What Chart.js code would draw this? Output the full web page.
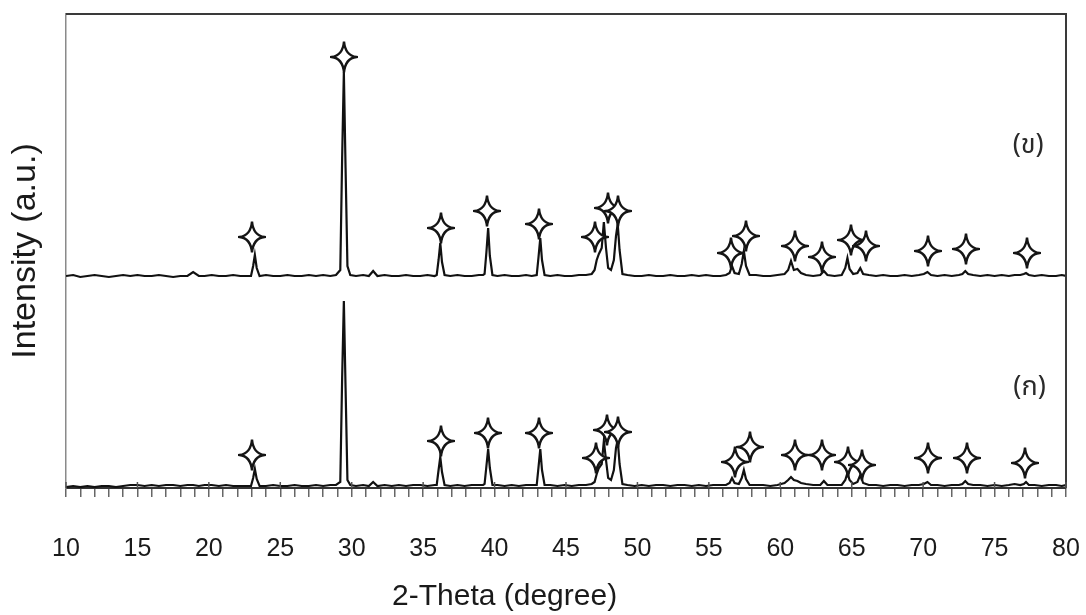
<!DOCTYPE html>
<html>
<head>
<meta charset="utf-8">
<script src="https://cdn.jsdelivr.net/npm/chart.js@4"></script>
<style>
  body { margin: 0; background: #fff; }
  #wrap { width: 1086px; height: 615px; position: relative; }
</style>
</head>
<body>
<div id="wrap"><canvas id="xrd-chart"></canvas></div>
<script>
// XRD patterns, 2-theta in degrees, intensity in arbitrary units
const twoTheta = [
    10, 10.5, 11, 11.5, 12, 12.5, 13, 13.5, 14, 14.5,
    15, 15.5, 16, 16.5, 17, 17.5, 18, 18.5, 18.9, 19.3,
    19.7, 20.2, 20.7, 21.2, 21.7, 22.2, 22.6,
    22.95, 23.1, 23.22, 23.35, 23.55,
    24, 24.5, 25, 25.5, 26, 26.5, 27, 27.5, 28, 28.5, 28.9,
    29.2, 29.33, 29.45, 29.57, 29.7, 29.9,
    30.3, 30.8, 31.2, 31.5, 31.8, 32.3, 32.8, 33.3, 33.8, 34.3, 34.8, 35.3, 35.8,
    35.95, 36.08, 36.2, 36.32, 36.5,
    36.9, 37.4, 37.9, 38.4, 38.9, 39.2,
    39.3, 39.43, 39.55, 39.67, 39.85,
    40.2, 40.7, 41.2, 41.7, 42.2, 42.6, 42.95,
    43.07, 43.2, 43.32, 43.5,
    43.9, 44.4, 44.9, 45.4, 45.9, 46.4, 46.8,
    47.0, 47.15, 47.3, 47.5, 47.65, 47.8, 47.95, 48.15, 48.35, 48.5, 48.62, 48.75, 48.95,
    49.3, 49.8, 50.3, 50.8, 51.3, 51.8, 52.3, 52.8, 53.3, 53.8, 54.3, 54.8, 55.3, 55.8, 56.2,
    56.45, 56.62, 56.8, 57.1, 57.3, 57.45, 57.6, 57.85,
    58.3, 58.8, 59.3, 59.8, 60.3, 60.55, 60.75, 60.95, 61.2, 61.45, 61.8,
    62.3, 62.8, 63.05, 63.3, 63.8, 64.3, 64.55, 64.7, 64.85, 65.1, 65.4, 65.6, 65.8, 66.2,
    66.7, 67.2, 67.7, 68.2, 68.7, 69.2, 69.7, 70.05, 70.3, 70.55, 71.0, 71.5, 72.0, 72.5, 72.75, 72.95, 73.15, 73.5,
    74.0, 74.5, 75.0, 75.5, 76.0, 76.4, 76.8, 77.05, 77.2, 77.4, 77.8, 78.3, 78.8, 79.3, 79.7, 80
];

// (ข) upper pattern
const traceB = [
    212, 213, 211, 212, 213, 212, 211, 212, 213, 212,
    213, 212, 212, 213, 212, 211, 212, 212, 216, 212,
    212, 213, 212, 212, 213, 212, 212,
    212, 222, 233, 220, 212,
    213, 212, 212, 213, 212, 212, 213, 212, 213, 212, 213,
    218, 330, 416, 320, 222, 213,
    212, 213, 212, 217, 212, 213, 212, 212, 213, 212, 212, 213, 212,
    213, 228, 245, 226, 213,
    212, 213, 212, 212, 213, 213,
    214, 236, 260, 232, 213,
    212, 213, 212, 212, 213, 212, 213,
    230, 250, 228, 213,
    212, 213, 212, 212, 213, 213, 214,
    218, 228, 234, 240, 266, 240, 220, 218, 228, 252, 264, 238, 214,
    213, 212, 212, 213, 212, 212, 213, 212, 212, 213, 212, 213, 212, 212, 213,
    215, 222, 215, 214, 224, 237, 222, 213,
    213, 212, 212, 213, 214, 218, 227, 218, 219, 215, 213,
    212, 213, 217, 213, 212, 213, 220, 230, 219, 214, 215, 220, 214, 213,
    212, 213, 212, 212, 213, 212, 213, 214, 216, 213, 212, 213, 212, 213, 214, 217, 214, 213,
    212, 213, 212, 213, 212, 213, 213, 214, 215, 213, 212, 213, 212, 212, 213, 212
];

// (ก) lower pattern
const traceA = [
    1, 2, 1, 2, 1, 2, 2, 1, 2, 3,
    3, 2, 3, 2, 3, 3, 2, 3, 3, 2,
    3, 3, 2, 3, 2, 2, 2,
    2, 10, 19, 9, 2,
    2, 3, 2, 2, 3, 2, 2, 3, 2, 3, 3,
    6, 110, 187, 100, 8, 3,
    2, 3, 2, 6, 2, 3, 2, 3, 2, 3, 3, 2, 3,
    3, 18, 31, 16, 3,
    2, 3, 2, 3, 3, 3,
    4, 22, 39, 20, 3,
    3, 2, 3, 2, 3, 3, 3,
    20, 39, 18, 3,
    3, 2, 3, 2, 3, 3, 4,
    6, 14, 20, 24, 47, 28, 10, 8, 18, 40, 48, 24, 4,
    3, 2, 3, 2, 3, 3, 2, 3, 3, 2, 3, 2, 3, 3, 3,
    5, 10, 5, 4, 10, 18, 9, 3,
    3, 3, 2, 3, 5, 8, 11, 8, 7, 5, 4,
    3, 3, 7, 3, 3, 3, 8, 15, 8, 4, 6, 13, 5, 3,
    3, 2, 3, 3, 2, 3, 3, 4, 6, 3, 3, 2, 3, 3, 4, 7, 4, 3,
    3, 2, 3, 2, 3, 4, 3, 4, 6, 3, 3, 2, 3, 3, 2, 3
];

// star markers over the identified peaks
const starBX = [23.02, 29.46, 36.25, 39.47, 43.11, 47.03, 47.94, 48.64, 56.55, 57.6, 61.03, 62.92, 64.95, 66.0, 70.34, 73.0, 77.27];
const starBY = [251, 431, 260, 277, 264, 251, 280, 277, 235, 252, 242, 231, 248, 242, 237, 239, 235];
const starAX = [23.02, 36.25, 39.54, 43.11, 47.1, 47.87, 48.64, 56.83, 57.88, 61.03, 62.92, 64.74, 65.72, 70.34, 73.07, 77.13];
const starAY = [33, 47, 55, 55, 30, 58, 56, 26, 41, 33, 33, 26, 23, 30, 30, 25];

const majorTicks = [10, 15, 20, 25, 30, 35, 40, 45, 50, 55, 60, 65, 70, 75, 80];
const sampleLabels = ['(ข)', '(ก)'];
const labelX = [77.35, 77.45];
const labelY = [340, 98];
const xTitle = '2-Theta (degree)';
const xTitleAt = 40.7;   // the axis title sits left of centre in the original

function toPoints(xs, ys) {
    return xs.map((x, i) => ({ x: x, y: ys[i] }));
}

// four pointed star used as point style
function makeStar() {
    const c = document.createElement('canvas');
    c.width = 28;
    c.height = 34;
    const g = c.getContext('2d');
    const cx = 14, cy = 17, k = 1.3;
    g.beginPath();
    g.moveTo(cx, 1.5);
    g.quadraticCurveTo(cx + k, cy - k, 26.5, cy);
    g.quadraticCurveTo(cx + k, cy + k, cx, 32.5);
    g.quadraticCurveTo(cx - k, cy + k, 1.5, cy);
    g.quadraticCurveTo(cx - k, cy - k, cx, 1.5);
    g.closePath();
    g.fillStyle = '#fff';
    g.fill();
    g.lineWidth = 2.4;
    g.strokeStyle = '#151515';
    g.stroke();
    return c;
}
const star = makeStar();

// frame on top/right, crossing major ticks, sample labels, x title
const extras = {
    id: 'extras',
    afterDatasetsDraw(chart) {
        const { ctx, chartArea, scales } = chart;
        const x = scales.x, y = scales.y;
        ctx.save();
        ctx.strokeStyle = '#3a3a3a';
        ctx.lineWidth = 2;
        ctx.beginPath();
        ctx.moveTo(chartArea.left, chartArea.top);
        ctx.lineTo(chartArea.right, chartArea.top);
        ctx.lineTo(chartArea.right, chartArea.bottom);
        ctx.stroke();

        ctx.strokeStyle = '#555';
        ctx.lineWidth = 1.5;
        majorTicks.forEach(v => {
            const px = x.getPixelForValue(v);
            ctx.beginPath();
            ctx.moveTo(px, chartArea.bottom);
            ctx.lineTo(px, chartArea.bottom - 6);
            ctx.stroke();
        });

        ctx.fillStyle = '#2a2a2a';
        ctx.font = '27px "Noto Sans Thai", Tahoma, "Liberation Sans", sans-serif';
        ctx.textAlign = 'center';
        ctx.textBaseline = 'middle';
        sampleLabels.forEach((t, i) => {
            ctx.fillText(t, x.getPixelForValue(labelX[i]), y.getPixelForValue(labelY[i]));
        });

        ctx.fillStyle = '#1a1a1a';
        ctx.font = '30px "Liberation Sans", Arial, sans-serif';
        ctx.fillText(xTitle, x.getPixelForValue(xTitleAt), x.bottom - 18);
        ctx.restore();
    }
};

const ctx = document.getElementById('xrd-chart').getContext('2d');
new Chart(ctx, {
    type: 'scatter',
    data: {
        datasets: [
            {
                data: toPoints(starBX, starBY),
                pointStyle: star,
                pointRadius: 5,
                showLine: false,
                order: 0
            },
            {
                data: toPoints(starAX, starAY),
                pointStyle: star,
                pointRadius: 5,
                showLine: false,
                order: 0
            },
            {
                data: toPoints(twoTheta, traceB),
                showLine: true,
                borderColor: '#111',
                borderWidth: 2.2,
                pointRadius: 0,
                order: 1
            },
            {
                data: toPoints(twoTheta, traceA),
                showLine: true,
                borderColor: '#111',
                borderWidth: 2.2,
                pointRadius: 0,
                order: 1
            }
        ]
    },
    options: {
        responsive: true,
        maintainAspectRatio: false,
        animation: false,
        layout: {
            padding: { top: 14, right: 20, bottom: 0, left: 0 }
        },
        plugins: {
            legend: { display: false },
            tooltip: { enabled: false }
        },
        scales: {
            x: {
                type: 'linear',
                min: 10,
                max: 80,
                afterFit: scale => {
                    scale.height = 127;
                    scale.paddingLeft = 0;
                    scale.paddingRight = 0;
                },
                border: { color: '#333', width: 2 },
                grid: {
                    drawOnChartArea: false,
                    drawTicks: true,
                    tickLength: 9,
                    color: '#666',
                    lineWidth: 1.5
                },
                ticks: {
                    stepSize: 1,
                    autoSkip: false,
                    maxRotation: 0,
                    padding: 37,
                    color: '#1a1a1a',
                    font: { family: '"Liberation Sans", Arial, sans-serif', size: 25 },
                    callback: value => majorTicks.includes(value) ? String(value) : ''
                }
            },
            y: {
                min: 0,
                max: 474,
                afterFit: scale => { scale.width = 66; },
                border: { color: '#8a8a8a', width: 1.5 },
                grid: { drawOnChartArea: false, drawTicks: false },
                ticks: { display: false },
                title: {
                    display: true,
                    text: 'Intensity (a.u.)',
                    color: '#1a1a1a',
                    font: { family: '"Liberation Sans", Arial, sans-serif', size: 34 },
                    padding: { top: 5, bottom: 0 }
                }
            }
        }
    },
    plugins: [extras]
});
</script>
</body>
</html>
